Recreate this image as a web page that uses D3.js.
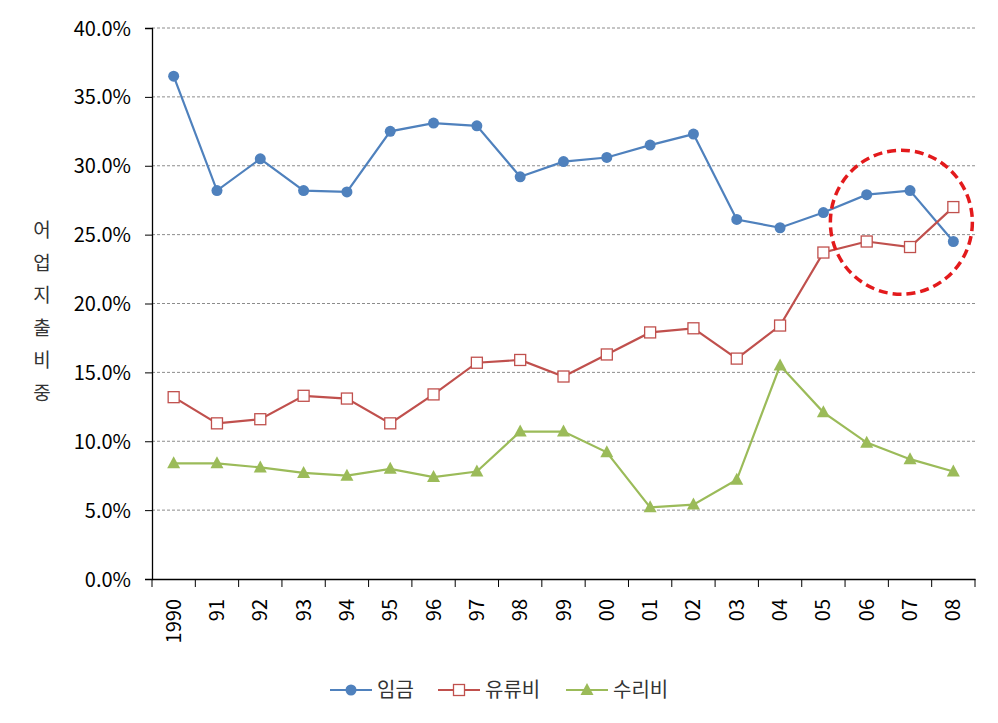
<!DOCTYPE html>
<html>
<head>
<meta charset="utf-8">
<script src="https://cdn.jsdelivr.net/npm/d3@7"></script>
<style>
html,body{margin:0;padding:0;background:#fff;}
svg{display:block;font-family:"Noto Sans CJK KR","Noto Sans",sans-serif;}
</style>
</head>
<body>
<svg id="chart" width="998" height="723"></svg>
<script>
const categories = ["1990","91","92","93","94","95","96","97","98","99","00","01","02","03","04","05","06","07","08"];
const wages   = [36.5,28.2,30.5,28.2,28.1,32.5,33.1,32.9,29.2,30.3,30.6,31.5,32.3,26.1,25.5,26.6,27.9,28.2,24.5];
const fuel    = [13.2,11.3,11.6,13.3,13.1,11.3,13.4,15.7,15.9,14.7,16.3,17.9,18.2,16.0,18.4,23.7,24.5,24.1,27.0];
const repair  = [8.4,8.4,8.1,7.7,7.5,8.0,7.4,7.8,10.7,10.7,9.2,5.2,5.4,7.2,15.5,12.1,9.9,8.7,7.8];
const seriesNames = ["임금","유류비","수리비"];
const yTicks = [0,5,10,15,20,25,30,35,40];
const yTitle = ["어","업","지","출","비","중"];
const highlightYears = ["06","07"];

const colors = ["#4f81bd","#c0504d","#9bbb59"];
const svg = d3.select("#chart");
const mLeft = 152, mRight = 975, mTop = 28, mBottom = 579;

const x = d3.scaleBand().domain(categories).range([mLeft, mRight]).padding(0);
const y = d3.scaleLinear().domain([0, 40]).range([mBottom, mTop]);
const cx = d => x(d) + x.bandwidth() / 2;

// gridlines
svg.append("g").selectAll("line").data(yTicks.filter(t => t > 0)).join("line")
  .attr("x1", mLeft).attr("x2", mRight)
  .attr("y1", d => y(d)).attr("y2", d => y(d))
  .attr("stroke", "#8c8c8c").attr("stroke-width", 1).attr("stroke-dasharray", "3,2");

// y axis
const yAxis = svg.append("g").attr("transform", `translate(${mLeft},0)`)
  .call(d3.axisLeft(y).tickValues(yTicks).tickSize(7).tickPadding(14).tickFormat(d => d.toFixed(1) + "%"));
yAxis.attr("font-family", null).attr("font-size", null);
yAxis.select(".domain").attr("stroke", "#000").attr("stroke-width", 1.3);
yAxis.selectAll(".tick line").attr("stroke", "#000");
yAxis.selectAll("text").attr("font-size", 20).attr("fill", "#000").attr("dy", "0.35em");

// x axis
const xAxis = svg.append("g").attr("transform", `translate(0,${mBottom})`)
  .call(d3.axisBottom(x).tickSizeOuter(0).tickSize(0).tickFormat(""));
xAxis.select(".domain").attr("stroke", "#000").attr("stroke-width", 1.3);
svg.append("g").selectAll("line").data(d3.range(categories.length + 1)).join("line")
  .attr("x1", i => mLeft + i * x.bandwidth()).attr("x2", i => mLeft + i * x.bandwidth())
  .attr("y1", mBottom).attr("y2", mBottom + 8).attr("stroke", "#000");
svg.append("g").selectAll("text").data(categories).join("text")
  .attr("transform", d => `translate(${cx(d) + 7},${mBottom + 20}) rotate(-90)`)
  .attr("text-anchor", "end").attr("font-size", 20).attr("fill", "#000")
  .text(d => d);

// y title
svg.append("g").selectAll("text").data(yTitle).join("text")
  .attr("x", 42).attr("y", (d, i) => 237 + i * 32.6)
  .attr("text-anchor", "middle").attr("font-size", 19).attr("fill", "#333")
  .text(d => d);

const data = [wages, fuel, repair];
const line = d3.line().x((d, i) => cx(categories[i])).y(d => y(d));

function drawMarker(g, type, color) {
  if (type === 0) {
    g.append("circle").attr("r", 5.5).attr("fill", color);
  } else if (type === 1) {
    g.append("rect").attr("x", -5.5).attr("y", -5.5).attr("width", 11).attr("height", 11)
      .attr("fill", "#fff").attr("stroke", color).attr("stroke-width", 1.3);
  } else {
    g.append("path").attr("d", "M0,-7L6.5,5L-6.5,5Z").attr("fill", color);
  }
}

data.forEach((vals, si) => {
  svg.append("path").datum(vals).attr("d", line)
    .attr("fill", "none").attr("stroke", colors[si]).attr("stroke-width", 2.2);
  vals.forEach((v, i) => {
    const g = svg.append("g").attr("transform", `translate(${cx(categories[i])},${y(v)})`);
    drawMarker(g, si, colors[si]);
  });
});

// highlight circle
const hx = (cx(highlightYears[0]) + cx(highlightYears[1])) / 2 + 0.3 * x.bandwidth();
svg.append("ellipse").attr("cx", hx).attr("cy", y(25.9)).attr("rx", 71).attr("ry", 72)
  .attr("fill", "none").attr("stroke", "#e31a1c").attr("stroke-width", 3.5)
  .attr("stroke-dasharray", "9,5");

// legend
const legX = [330, 438, 566];
const legY = 690;
seriesNames.forEach((n, i) => {
  const g = svg.append("g").attr("transform", `translate(${legX[i]},${legY})`);
  g.append("line").attr("x1", 0).attr("x2", 42).attr("stroke", colors[i]).attr("stroke-width", 2.2);
  const m = g.append("g").attr("transform", "translate(21,0)");
  drawMarker(m, i, colors[i]);
  g.append("text").attr("x", 47).attr("y", 7).attr("font-size", 20).attr("fill", "#333").text(n);
});
</script>
</body>
</html>
